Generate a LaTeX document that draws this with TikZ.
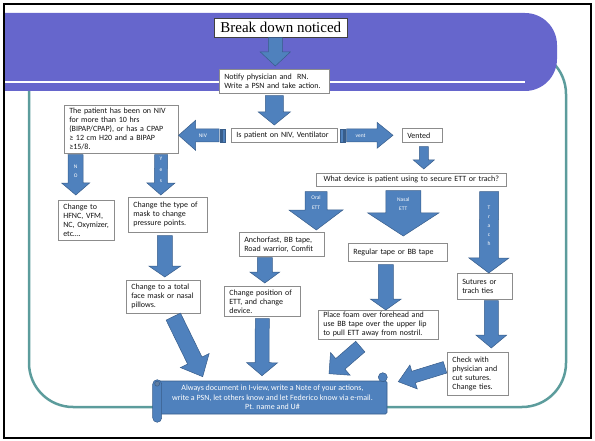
\documentclass[tikz,border=0pt]{standalone}
\usepackage{fontspec}
\setmainfont{Carlito}
\newfontfamily\titleserif{Liberation Serif}
\usetikzlibrary{calc}
\definecolor{bannerpurple}{RGB}{102,102,204}
\definecolor{frameteal}{RGB}{92,156,156}
\definecolor{arrowblue}{RGB}{79,129,189}
\definecolor{arrowedge}{RGB}{56,93,138}
\definecolor{boxgray}{RGB}{140,140,140}
\definecolor{textdark}{RGB}{20,20,20}
\begin{document}
\begin{tikzpicture}[x=1pt,y=-1pt,
  infobox/.style={draw=boxgray,fill=white,line width=0.6pt,anchor=north west,align=left,
    inner xsep=5pt,inner ysep=1pt,text=textdark,font=\fontsize{8}{9}\selectfont},
  titlebox/.style={draw=black!75,fill=white,line width=0.6pt,anchor=north west,inner sep=0pt,
    minimum width=133pt,minimum height=19pt,font=\titleserif\fontsize{15}{17}\selectfont},
  arrowbody/.style={fill=arrowblue,draw=arrowedge,line width=0.5pt},
  arrowlabel/.style={text=white,align=center,inner sep=0pt,font=\fontsize{5.5}{#1}\selectfont},
  arrowlabel/.default=9,
  scrollbody/.style={fill=arrowblue,draw=arrowedge,line width=0.6pt,rounded corners=1.5pt,
    text=white,align=center,inner sep=0pt,font=\fontsize{8}{9.3}\selectfont}]
\newcommand{\blockarrow}[5]{
\coordinate (headbase) at ($(#2)!#5!(#1)$);
\filldraw[arrowbody] ($(#1)!#3!90:(#2)$) -- ($(headbase)!#3!90:(#2)$) -- ($(headbase)!#4!90:(#2)$)
  -- (#2) -- ($(headbase)!#4!-90:(#2)$) -- ($(headbase)!#3!-90:(#2)$) -- ($(#1)!#3!-90:(#2)$) -- cycle;
}%Page frame
\useasboundingbox (0,0) rectangle (595,441);
\draw[line width=2pt] (4,4) rectangle (591,438);
%Teal outline behind everything
\draw[frameteal,line width=2.5pt,rounded corners=44pt] (29,50) rectangle (566,407);
%Purple banner with the white stripe
\fill[bannerpurple] (5,13) [rounded corners=32pt] -- (557,13) -- (557,91) [sharp corners] -- (5,91) -- cycle;
\draw[white,line width=2.5pt] (5,82) -- (525,82);
%Boxes
\node [titlebox] (brk) at (214,18) {Break down noticed};
\node [infobox,text width=100pt,minimum height=24pt] (notify) at (219,69) {Notify physician and~~RN.\\Write a PSN and take action.};
\node [infobox,text width=96pt,minimum height=14pt] (isnv) at (231,128) {Is patient on NIV, Ventilator};
\node [infobox,text width=30pt,minimum height=14pt] (vented) at (402,128) {Vented};
\node [infobox,text width=180pt,minimum height=13pt,align=center] (device) at (316,173) {What device is patient using to secure ETT or trach?};
\node [infobox,text width=104pt,minimum height=48pt] (nivbox) at (64,105) {The patient has been on NIV\\for more than 10 hrs\\(BIPAP/CPAP), or has a CPAP\\≥ 12 cm H20 and a BIPAP\\≥15/8.};
\node [infobox,text width=46pt,minimum height=40pt] (hfnc) at (58,200) {Change to\\HFNC, VFM,\\NC, Oxymizer,\\etc….};
\node [infobox,text width=69pt,minimum height=35pt] (mask) at (128,197) {Change the type of\\mask to change\\pressure points.};
\node [infobox,text width=64pt,minimum height=33pt] (total) at (126,280) {Change to a total\\face mask or nasal\\pillows.};
\node [infobox,text width=75pt,minimum height=24pt] (anchorbox) at (239,232) {Anchorfast, BB tape,\\Road warrior, Comfit};
\node [infobox,text width=66pt,minimum height=30pt] (chpos) at (224,286) {Change position of\\ETT, and change\\device.};
\node [infobox,text width=89pt,minimum height=18pt] (regular) at (348,243) {Regular tape or BB tape};
\node [infobox,text width=110pt,minimum height=29pt] (foam) at (318,310) {Place foam over forehead and\\use BB tape over the upper lip\\to pull ETT away from nostril.};
\node [infobox,text width=45pt,minimum height=26pt] (sutures) at (457,273) {Sutures or\\trach ties};
\node [infobox,text width=51pt,minimum height=43pt] (check) at (447,352) {Check with\\physician and\\cut sutures.\\Change ties.};
%The scroll
\node [scrollbody,minimum width=229pt,minimum height=33pt] (doc) at (272.5,397.5) {Always document in I-view, write a Note of your actions,\\write a PSN, let others know and let Federico know via e-mail.\\Pt. name and U\#};
\filldraw[arrowbody,rounded corners=4.5pt] ([xshift=-5pt,yshift=1pt]doc.north west) rectangle ([xshift=4pt,yshift=-8pt]doc.south west);
\filldraw[fill=arrowedge!80,draw=arrowedge,line width=0.5pt] ([xshift=-0.5pt,yshift=-3pt]doc.north west) circle (2.5pt);
\filldraw[arrowbody] ([xshift=-4.5pt,yshift=3.5pt]doc.north east) circle (4.5pt);
%Break down -> notify
\coordinate (a1s) at ([xshift=-5.5pt]brk.south);
\coordinate (a1e) at ([xshift=1pt,yshift=3pt]notify.north);
\blockarrow{a1s}{a1e}{7pt}{15pt}{14pt}
%Notify -> NIV or ventilator
\coordinate (a2s) at ([yshift=-2pt]notify.south);
\coordinate (a2e) at ([xshift=-10pt,yshift=3pt]isnv.north);
\blockarrow{a2s}{a2e}{9pt}{16pt}{13pt}
%NIV branch
\coordinate (nivs) at ([xshift=-12pt]isnv.west);
\coordinate (nive) at ([yshift=-6pt]nivbox.east);
\blockarrow{nivs}{nive}{6.5pt}{15pt}{17pt}
\filldraw[arrowbody] ([xshift=1.5pt,yshift=6.5pt]nivs) rectangle ([xshift=2.5pt,yshift=-6.5pt]nivs);
\filldraw[arrowbody] ([xshift=3.5pt,yshift=6.5pt]nivs) rectangle ([xshift=6pt,yshift=-6.5pt]nivs);
\node [arrowlabel] (lblniv) at ($(nivs)!0.4!(nive)$) {NIV};
%vent branch
\coordinate (vents) at ([xshift=9pt]isnv.east);
\coordinate (vente) at ([xshift=-9pt]vented.west);
\blockarrow{vents}{vente}{6.5pt}{13pt}{16pt}
\filldraw[arrowbody] ([xshift=-6pt,yshift=6.5pt]vents) rectangle ([xshift=-3.5pt,yshift=-6.5pt]vents);
\filldraw[arrowbody] ([xshift=-2.5pt,yshift=6.5pt]vents) rectangle ([xshift=-1.5pt,yshift=-6.5pt]vents);
\node [arrowlabel] (lblvent) at ($(vents)!0.3!(vente)$) {vent};
%Vented -> device question
\coordinate (a3s) at ([xshift=1.5pt,yshift=-4pt]vented.south);
\coordinate (a3e) at ([xshift=12.5pt,yshift=4pt]device.north);
\blockarrow{a3s}{a3e}{4.5pt}{10.5pt}{9pt}
%Oral ETT
\coordinate (orals) at ([yshift=-5pt]device.south west);
\coordinate (orale) at ([xshift=34.5pt,yshift=2pt]anchorbox.north);
\blockarrow{orals}{orale}{11pt}{27pt}{20pt}
\node [arrowlabel=10] (lbloral) at ($(orals)!0.28!(orale)$) {Oral\\ETT};
%Nasal ETT
\coordinate (nasals) at ([xshift=-8pt,yshift=-4pt]device.south);
\coordinate (nasale) at ([xshift=5.5pt,yshift=7pt]regular.north);
\blockarrow{nasals}{nasale}{17.5pt}{35.5pt}{23pt}
\node [arrowlabel=9.5] (lblnasal) at ($(nasals)!0.3!(nasale)$) {Nasal\\ETT};
%Trach
\coordinate (trachs) at ([xshift=-17.5pt,yshift=-5pt]device.south east);
\coordinate (trache) at ([xshift=4pt]sutures.north);
\blockarrow{trachs}{trache}{9.5pt}{20pt}{15pt}
\node [arrowlabel=9] (lbltrach) at ($(trachs)!0.42!(trache)$) {T\\r\\a\\c\\h};
%NO and Yes under the NIV question
\coordinate (nos) at ([xshift=11.5pt,yshift=-1pt]nivbox.south west);
\coordinate (noe) at ([xshift=-10.5pt,yshift=5pt]hfnc.north);
\blockarrow{nos}{noe}{7.5pt}{14pt}{12pt}
\node [arrowlabel=9] (lblno) at ($(nos)!0.4!(noe)$) {N\\O};
\coordinate (yess) at ([xshift=-17.5pt,yshift=-1pt]nivbox.south east);
\coordinate (yese) at ([xshift=-7pt,yshift=2pt]mask.north);
\blockarrow{yess}{yese}{6.5pt}{14pt}{12pt}
\node [arrowlabel=11] (lblyes) at ($(yess)!0.37!(yese)$) {Y\\e\\s};
%Chains down to the boxes below
\coordinate (a4s) at ([xshift=-3pt,yshift=-3pt]mask.south);
\coordinate (a4e) at ([xshift=1.5pt,yshift=3pt]total.north);
\blockarrow{a4s}{a4e}{7.5pt}{16pt}{11pt}
\coordinate (a5s) at ([xshift=-17pt,yshift=-1pt]anchorbox.south);
\coordinate (a5e) at ([xshift=2.5pt,yshift=3pt]chpos.north);
\blockarrow{a5s}{a5e}{7.5pt}{15pt}{11pt}
\coordinate (a7s) at ([xshift=-12pt,yshift=-3pt]regular.south);
\coordinate (a7e) at ([xshift=7.5pt]foam.north);
\blockarrow{a7s}{a7e}{7.5pt}{15.5pt}{11pt}
\coordinate (a8s) at ([xshift=6.5pt,yshift=-1pt]sutures.south);
\coordinate (a8e) at ([xshift=13.5pt,yshift=4pt]check.north);
\blockarrow{a8s}{a8e}{7pt}{15.5pt}{13pt}
%Everything ends in the scroll
\coordinate (a9s) at ([xshift=10pt,yshift=-3pt]total.south);
\coordinate (a9e) at ([xshift=45pt,yshift=4pt]doc.north west);
\blockarrow{a9s}{a9e}{8pt}{16pt}{18pt}
\coordinate (a6s) at ([yshift=-2pt]chpos.south);
\coordinate (a6e) at ([xshift=-10.5pt,yshift=5pt]doc.north);
\blockarrow{a6s}{a6e}{7pt}{15.5pt}{13pt}
\coordinate (a10s) at ([xshift=-18pt,yshift=-7pt]foam.south);
\coordinate (a10e) at ([xshift=56.5pt,yshift=7pt]doc.north);
\blockarrow{a10s}{a10e}{7pt}{15pt}{15pt}
\coordinate (a11s) at ([xshift=-2pt,yshift=6.5pt]check.west);
\coordinate (a11e) at ([xshift=11pt,yshift=-1pt]doc.north east);
\blockarrow{a11s}{a11e}{6pt}{12.5pt}{16pt}
\end{tikzpicture}
\end{document}
